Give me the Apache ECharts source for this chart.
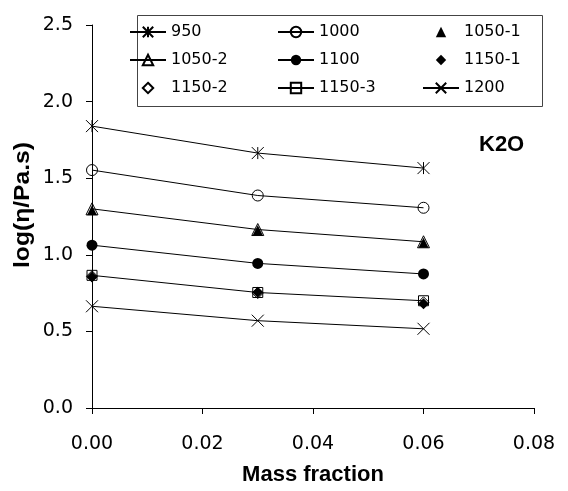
<!DOCTYPE html>
<html>
<head>
<meta charset="utf-8">
<script src="https://cdn.jsdelivr.net/npm/echarts@6/dist/echarts.min.js"></script>
<style>html,body{margin:0;padding:0;background:#fff;}#c{width:568px;height:491px;}</style>
</head>
<body>
<div id="c"></div>
<script>
var massFraction = [0, 0.03, 0.06];
var s950   = [1.84, 1.664, 1.566];
var s1000  = [1.553, 1.387, 1.307];
var s1050_1 = [1.29, 1.16, 1.078];
var s1050_2 = [1.30, 1.165, 1.085];
var s1100  = [1.063, 0.944, 0.875];
var s1150_1 = [0.855, 0.755, 0.68];
var s1150_2 = [0.86, 0.75, 0.69];
var s1150_3 = [0.866, 0.754, 0.70];
var s1200  = [0.664, 0.57, 0.517];
var xTicks = [0, 0.02, 0.04, 0.06, 0.08];
var yTicks = [0, 0.5, 1.0, 1.5, 2.0, 2.5];

function pts(v) { return massFraction.map(function (x, i) { return [x, v[i]]; }); }

var STAR = 'path://M0,0L10,10M10,0L0,10M5,0L5,10';
var CROSS = 'path://M0,0L10,10M10,0L0,10';
var lineStyle = { color: '#000', width: 1 };
var noLine = { color: '#000', width: 0, opacity: 0 };
var openStyle = { color: 'rgba(0,0,0,0)', borderColor: '#000', borderWidth: 1 };
var filledStyle = { color: '#000', borderColor: '#000', borderWidth: 0 };

function lineSeries(name, data, symbol, size, style, ls) {
  return { name: name, type: 'line', data: pts(data), symbol: symbol, symbolSize: size,
    showAllSymbol: true, lineStyle: ls || lineStyle, itemStyle: style, animation: false,
    emphasis: { disabled: true } };
}

var series = [
  lineSeries('950', s950, STAR, 12, openStyle),
  lineSeries('1000', s1000, 'circle', 11, openStyle),
  lineSeries('1050-1', s1050_1, 'triangle', 10, filledStyle, noLine),
  lineSeries('1050-2', s1050_2, 'triangle', 12, openStyle),
  lineSeries('1100', s1100, 'circle', 11, filledStyle),
  lineSeries('1150-1', s1150_1, 'diamond', 11, filledStyle, noLine),
  lineSeries('1150-2', s1150_2, 'diamond', 11, openStyle, noLine),
  lineSeries('1150-3', s1150_3, 'rect', 10, openStyle),
  lineSeries('1200', s1200, CROSS, 12, openStyle)
];

var legendBase = {
  orient: 'vertical', padding: 0, itemWidth: 36, itemHeight: 13, itemGap: 12,
  top: 24, selectedMode: false,
  textStyle: { fontFamily: 'DejaVu Sans', fontSize: 16, color: '#000', lineHeight: 16 }
};
function legendCol(left, names) {
  var l = JSON.parse(JSON.stringify(legendBase));
  l.left = left; l.data = names; return l;
}

var chart = echarts.init(document.getElementById('c'), null, { renderer: 'canvas' });
chart.setOption({
  backgroundColor: '#fff',
  animation: false,
  title: {
    text: 'K2O', left: 479, top: 134, padding: 0,
    textStyle: { fontFamily: 'Liberation Sans', fontWeight: 'bold', fontSize: 22, color: '#000' }
  },
  graphic: [{
    type: 'rect', z: 0, silent: true,
    shape: { x: 137.5, y: 15.5, width: 405, height: 91 },
    style: { fill: '#fff', stroke: '#444', lineWidth: 1 }
  }, {
    type: 'text', silent: true, x: 23, y: 205, rotation: Math.PI / 2, scaleX: 1.12,
    style: { text: 'log(η/Pa.s)', fill: '#000', align: 'center', verticalAlign: 'middle',
      font: 'bold 22px "Liberation Sans"' }
  }],
  legend: [
    legendCol(129, ['950', '1050-2', '1150-2']),
    legendCol(277, ['1000', '1100', '1150-3']),
    legendCol(422, ['1050-1', '1150-1', '1200'])
  ],
  grid: { left: 92, top: 25, width: 442, height: 386 },
  xAxis: {
    type: 'value', min: xTicks[0], max: xTicks[xTicks.length - 1], interval: 0.02,
    name: 'Mass fraction', nameLocation: 'middle', nameGap: 56,
    nameTextStyle: { fontFamily: 'Liberation Sans', fontWeight: 'bold', fontSize: 22, color: '#000' },
    axisLine: { lineStyle: { color: '#000', width: 1 } },
    axisTick: { inside: false, length: 6, lineStyle: { color: '#000' } },
    axisLabel: { margin: 27, fontFamily: 'DejaVu Sans', fontSize: 19, color: '#000',
      formatter: function (v) { return v.toFixed(2); } },
    splitLine: { show: false }
  },
  yAxis: {
    type: 'value', min: yTicks[0], max: yTicks[yTicks.length - 1], interval: 0.5,
    axisLine: { show: true, lineStyle: { color: '#000', width: 1 } },
    axisTick: { show: true, inside: false, length: 6, lineStyle: { color: '#000' } },
    axisLabel: { margin: 19, fontFamily: 'DejaVu Sans', fontSize: 19, color: '#000',
      formatter: function (v) { return v.toFixed(1); } },
    splitLine: { show: false }
  },
  series: series
});
</script>
</body>
</html>
